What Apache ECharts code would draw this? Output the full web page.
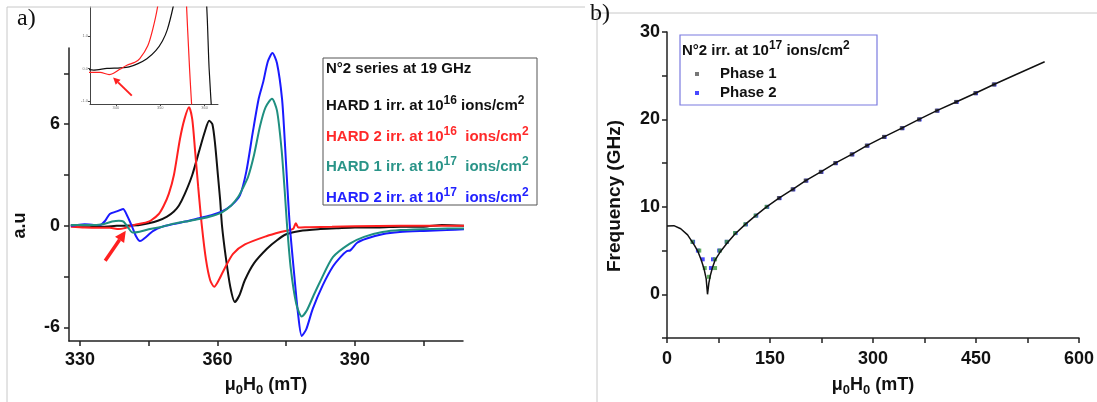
<!DOCTYPE html>
<html><head><meta charset="utf-8">
<script src="https://cdn.jsdelivr.net/npm/echarts@6/dist/echarts.min.js"></script>
<style>html,body{margin:0;padding:0;background:#fff}#c{width:1097px;height:402px}</style>
</head><body><div id="c"></div>
<script>
// ---------- Panel a) : EPR derivative spectra (field in mT, signal in a.u.) ----------
const hard1e16 = [[328,0.02],[332,0.0],[335,-0.05],[338,0.0],[341,0.02],[343,0.05],[345,0.15],[347,0.3],[349,0.55],[350.5,0.85],[351.6,1.2],[352.9,1.9],[354.5,3.0],[356.2,4.6],[357.3,5.6],[358.2,6.2],[358.9,6.0],[359.5,4.8],[360.1,3.0],[360.6,1.5],[361,0],[361.8,-1.8],[362.8,-3.6],[363.8,-4.5],[364.8,-4.1],[366,-3.2],[368,-2.2],[370.8,-1.35],[373,-0.85],[375,-0.5],[378,-0.3],[382,-0.2],[386,-0.15],[390,-0.1],[395,-0.1],[400,-0.05],[405,-0.05],[409,0.05],[414,0.0]];
const hard2e16 = [[328,-0.05],[331,-0.1],[334,-0.12],[336.5,-0.12],[338.5,-0.19],[339.5,-0.15],[341,-0.02],[342.5,0.1],[344.3,0.19],[345.4,0.3],[347.2,0.7],[348.3,1.2],[349.4,1.9],[350.5,3.0],[351.8,5.1],[352.8,6.3],[353.8,7.0],[354.5,6.3],[355.1,4.5],[355.8,2.3],[356.6,0],[357.5,-2.0],[358.4,-3.2],[359.3,-3.6],[360.3,-3.2],[361.6,-2.5],[363.4,-1.65],[366,-1.1],[370.8,-0.6],[374,-0.35],[376.5,-0.18],[377.1,0.15],[377.7,-0.1],[380,-0.08],[385,-0.05],[390,-0.02],[400,0.0],[414,0.0]];
const hard1e17 = [[328,0.05],[332,0.05],[335,0.1],[337,0.25],[338.5,0.3],[339.5,0.25],[340.5,-0.1],[341.5,-0.4],[343,-0.35],[345,-0.2],[348,-0.05],[350,0.1],[353,0.25],[356,0.4],[359,0.6],[361,0.8],[363,1.2],[364.5,1.7],[365.5,2.2],[366.7,2.9],[368,4.2],[369.3,5.9],[370.5,7.0],[371.9,7.5],[373,6.8],[374,4.5],[374.7,2.0],[375.2,0],[376,-2.5],[377.2,-4.6],[378.4,-5.35],[379.5,-5.0],[381,-4.1],[382.4,-3.3],[385.2,-1.85],[388.9,-1.05],[392,-0.65],[396,-0.37],[400,-0.25],[407,-0.18],[414,-0.15]];
const hard2e17 = [[328,0.0],[331,0.1],[333,0.05],[334.4,0.05],[335.5,0.3],[336.5,0.7],[338,0.85],[339.4,1.0],[340.3,0.6],[341.3,0.0],[342.2,-0.6],[343.1,-0.9],[344,-0.75],[346,-0.3],[348,-0.05],[350.3,0.1],[353,0.25],[356,0.45],[359,0.65],[361,0.85],[363,1.2],[364.9,1.8],[366.3,3.2],[367.7,5.5],[369,7.5],[370,8.5],[371,9.7],[372,10.2],[373,9.6],[374.1,7.5],[374.7,5.0],[375.2,2.6],[375.8,0],[376.8,-3.0],[377.6,-5.2],[378.4,-6.5],[379.4,-6.1],[380.8,-4.9],[383,-3.5],[385.2,-2.4],[387,-1.8],[388.2,-1.5],[389,-1.45],[390.5,-1.0],[392.6,-0.75],[396,-0.5],[399.8,-0.37],[405,-0.3],[410,-0.25],[414,-0.2]];

// ---------- Panel b) : frequency vs field ----------
const fitLine = [[0,7.8],[10,7.85],[20,7.5],[30,6.8],[40,5.6],[45,4.9],[50,3.9],[54,2.9],[57,1.8],[59,0],[61,1.3],[63,2.1],[66,3.0],[70,3.9],[78,4.9],[87,5.8],[99,6.9],[114,8.0],[129,9.0],[145,10.0],[163,11],[183,12],[202,13],[224,14],[245,15],[269,16],[291,17],[316,18],[342,19],[367,20],[393,21],[421,22],[449,23],[476,24],[510,25.2],[550,26.6]];
const phase1 = [[37,6],[47,5],[55,3],[61,2],[70,3],[70,4],[77,5],[87,6],[99,7],[114,8],[129,9],[145,10],[163,11],[183,12],[202,13],[224,14],[245,15],[269,16],[291,17],[316,18],[342,19],[367,20],[393,21],[421,22],[449,23],[476,24]];
const phase2 = [[38,6],[45,5],[52,4],[64,3],[67,4],[76,5],[87,6],[100,7],[115,8],[130,9],[146,10],[164,11],[184,12],[203,13],[225,14],[246,15],[270,16],[292,17],[317,18],[343,19],[368,20],[394,21],[422,22],[450,23],[477,24]];

// ---------- ticks ----------
const leftXTicks = [330,345,360,375,390,405];
const leftXLabels = [330,360,390];
const leftYTicks = [-6,-3,0,3,6,9];
const leftYLabels = [-6,0,6];
const insetXTicks = [340,350,360];
const insetYTicks = [-1,0,1];
const rightXTicks = [0,75,150,225,300,375,450,525,600];
const rightXLabels = [0,150,300,450,600];
const rightYTicks = [-5,0,5,10,15,20,25,30];
const rightYLabels = [0,10,20,30];

// annotation arrows (data coordinates: tail, head)
const mainArrow = [[335.5,-2.06],[340.0,-0.29]];
const insetArrow = [[343.6,-0.84],[339.4,-0.28]];

const N1 = 'HARD 1 irr. at 10^16 ions/cm^2';
const N2 = 'HARD 2 irr. at 10^16  ions/cm^2';
const N3 = 'HARD 1 irr. at 10^17  ions/cm^2';
const N4 = 'HARD 2 irr. at 10^17  ions/cm^2';
const C1 = '#111111', C2 = '#ff2020', C3 = '#1f8f80', C4 = '#1a1aff';

const FF = "'Liberation Sans', Arial, sans-serif";
const tickLbl = {fontFamily: FF, fontWeight: 'bold', fontSize: 18, color: '#111'};
const axLine = {show: true, onZero: false, lineStyle: {color: '#222', width: 1.5}};
const axLineThin = {show: true, onZero: false, lineStyle: {color: '#444', width: 1}};

function toRich(name){
  return ('{b|' + name.replace(/\^(\d+)/g, '}{s|$1}{b|') + '}').replace('{b|}', '');
}
function legRich(color){
  return {color: color, rich: {
    b: {fontSize: 15, fontWeight: 'bold', fontFamily: FF, color: color, lineHeight: 22},
    s: {fontSize: 12, fontWeight: 'bold', fontFamily: FF, color: color, lineHeight: 12, verticalAlign: 'top'}
  }};
}
const fieldName = '{m|μ}{sub|0}{m|H}{sub|0}{m| (mT)}';
const fieldNameStyle = {rich: {
  m: {fontSize: 18, fontWeight: 'bold', fontFamily: FF, color: '#111', lineHeight: 24},
  sub: {fontSize: 13, fontWeight: 'bold', fontFamily: FF, color: '#111', lineHeight: 13, verticalAlign: 'bottom'}
}};

const chart = echarts.init(document.getElementById('c'), null, {renderer: 'canvas'});

const lineS = (name, data, color, x, w) => ({
  type: 'line', name: name, data: data, xAxisIndex: x, yAxisIndex: x,
  showSymbol: false, symbol: 'none', lineStyle: {color: color, width: w}, itemStyle: {color: color},
  smooth: 0.25, animation: false, clip: true
});

const option = {
  backgroundColor: '#fff',
  animation: false,
  grid: [
    {left: 69, top: 48, width: 394, height: 295},
    {left: 90, top: 7, width: 128, height: 97},
    {left: 667, top: 32, width: 412, height: 308}
  ],
  xAxis: [
    {gridIndex: 0, type: 'value', min: 327.6, max: 413.6, axisLine: axLine,
     axisTick: {customValues: leftXTicks, length: 5, lineStyle: {color: '#222', width: 1.5}},
     axisLabel: Object.assign({customValues: leftXLabels, margin: 10}, tickLbl),
     splitLine: {show: false},
     name: fieldName, nameLocation: 'middle', nameGap: 32, nameTextStyle: fieldNameStyle},
    {gridIndex: 1, type: 'value', min: 334.2, max: 363, axisLine: axLineThin,
     axisTick: {customValues: insetXTicks, length: 2, lineStyle: {color: '#444', width: 1}},
     axisLabel: {customValues: insetXTicks, fontSize: 4, color: '#777', margin: 2, fontFamily: FF},
     splitLine: {show: false}},
    {gridIndex: 2, type: 'value', min: 0, max: 600, axisLine: axLine,
     axisTick: {customValues: rightXTicks, length: 5, lineStyle: {color: '#222', width: 1.5}},
     axisLabel: Object.assign({customValues: rightXLabels, margin: 12}, tickLbl),
     splitLine: {show: false},
     name: fieldName, nameLocation: 'middle', nameGap: 35, nameTextStyle: fieldNameStyle}
  ],
  yAxis: [
    {gridIndex: 0, type: 'value', min: -6.8, max: 10.5, axisLine: axLine,
     axisTick: {customValues: leftYTicks, length: 5, lineStyle: {color: '#222', width: 1.5}},
     axisLabel: Object.assign({customValues: leftYLabels, margin: 9}, tickLbl),
     splitLine: {show: false},
     name: 'a.u', nameLocation: 'middle', nameGap: 40,
     nameTextStyle: {fontFamily: FF, fontWeight: 'bold', fontSize: 18, color: '#111', padding: [0, 62, 0, 0]}},
    {gridIndex: 1, type: 'value', min: -1.1, max: 1.9, axisLine: axLineThin,
     axisTick: {customValues: insetYTicks, length: 2, lineStyle: {color: '#444', width: 1}},
     axisLabel: {customValues: insetYTicks, fontSize: 4, color: '#777', margin: 2, fontFamily: FF,
                 formatter: v => v.toFixed(1)},
     splitLine: {show: false}},
    {gridIndex: 2, type: 'value', min: -5, max: 30, axisLine: axLine,
     axisTick: {customValues: rightYTicks, length: 5, lineStyle: {color: '#222', width: 1.5}},
     axisLabel: Object.assign({customValues: rightYLabels, margin: 7}, tickLbl),
     splitLine: {show: false},
     name: 'Frequency (GHz)', nameLocation: 'middle', nameGap: 43,
     nameTextStyle: {fontFamily: FF, fontWeight: 'bold', fontSize: 19, color: '#111', padding: [0, 22, 0, 0]}}
  ],
  legend: [
    {orient: 'vertical', left: 320, top: 95, padding: 0, itemGap: 12, icon: 'none',
     itemWidth: 1, itemHeight: 14, selectedMode: false,
     formatter: toRich,
     textStyle: {fontFamily: FF, fontWeight: 'bold', fontSize: 15},
     data: [
       {name: N1, textStyle: legRich('#111')},
       {name: N2, textStyle: legRich('#ff2a2a')},
       {name: N3, textStyle: legRich('#2a9488')},
       {name: N4, textStyle: legRich('#2222ff')}
     ]},
    {orient: 'vertical', left: 695, top: 66, padding: 0, itemGap: 3,
     itemWidth: 4, itemHeight: 4, selectedMode: false,
     textStyle: {fontFamily: FF, fontWeight: 'bold', fontSize: 15, color: '#111', lineHeight: 16, padding: [0, 0, 0, 16]},
     data: [
       {name: 'Phase 1', icon: 'rect', itemStyle: {color: '#555'}},
       {name: 'Phase 2', icon: 'rect', itemStyle: {color: '#1a1aff'}}
     ]}
  ],
  visualMap: [{type: 'piecewise', show: false, seriesIndex: 8, dimension: 1,
    pieces: [{max: 10.5, color: '#3c9a3c'}, {min: 10.5, color: '#3a3a3a'}]}],
  series: [
    lineS(N1, hard1e16, C1, 0, 2),
    lineS(N2, hard2e16, C2, 0, 2),
    lineS(N4, hard2e17, C4, 0, 2),
    lineS(N3, hard1e17, C3, 0, 2),
    lineS(N1, hard1e16, C1, 1, 1.2),
    lineS(N2, hard2e16, C2, 1, 1.2),
    {type: 'scatter', name: 'Phase 2', data: phase2, xAxisIndex: 2, yAxisIndex: 2,
     symbol: 'rect', symbolSize: 4, itemStyle: {color: '#1a1aff'}, z: 2},
    {type: 'line', name: 'Fit', data: fitLine, xAxisIndex: 2, yAxisIndex: 2, showSymbol: false, symbol: 'none',
     lineStyle: {color: '#111', width: 1.5}, z: 4},
    {type: 'scatter', name: 'Phase 1', data: phase1, xAxisIndex: 2, yAxisIndex: 2,
     symbol: 'rect', symbolSize: 4, z: 3}
  ]
};
chart.setOption(option);

function arrowEls(p0, p1, w, hl, hw, color){
  const dx = p1[0]-p0[0], dy = p1[1]-p0[1];
  const L = Math.hypot(dx, dy), ux = dx/L, uy = dy/L;
  const bx = p1[0]-ux*hl, by = p1[1]-uy*hl, nx = -uy, ny = ux;
  return [
    {type: 'line', z: 20, shape: {x1: p0[0], y1: p0[1], x2: bx, y2: by}, style: {stroke: color, lineWidth: w}},
    {type: 'polygon', z: 20, shape: {points: [[p1[0], p1[1]], [bx+nx*hw/2, by+ny*hw/2], [bx-nx*hw/2, by-ny*hw/2]]}, style: {fill: color}}
  ];
}
const supRich = (size) => ({
  b: {fontSize: size, fontWeight: 'bold', fontFamily: FF, fill: '#111', lineHeight: 22},
  s: {fontSize: size-3, fontWeight: 'bold', fontFamily: FF, fill: '#111', lineHeight: 12, verticalAlign: 'top'}
});
const ma0 = chart.convertToPixel({seriesIndex: 0}, mainArrow[0]);
const ma1 = chart.convertToPixel({seriesIndex: 0}, mainArrow[1]);
const ia0 = chart.convertToPixel({seriesIndex: 4}, insetArrow[0]);
const ia1 = chart.convertToPixel({seriesIndex: 4}, insetArrow[1]);

const gfx = [
  {type: 'line', z: 1, shape: {x1: 7, y1: 7, x2: 585, y2: 7}, style: {stroke: '#c8c8c8', lineWidth: 1}},
  {type: 'line', z: 1, shape: {x1: 7, y1: 7, x2: 7, y2: 402}, style: {stroke: '#c8c8c8', lineWidth: 1}},
  {type: 'line', z: 1, shape: {x1: 597, y1: 13, x2: 1097, y2: 13}, style: {stroke: '#c8c8c8', lineWidth: 1}},
  {type: 'line', z: 1, shape: {x1: 597, y1: 13, x2: 597, y2: 402}, style: {stroke: '#c8c8c8', lineWidth: 1}},
  {type: 'text', z: 10, style: {text: 'a)', x: 17, y: 19, verticalAlign: 'middle', fontFamily: "'Liberation Serif', serif", fontSize: 24, fill: '#111'}},
  {type: 'text', z: 10, style: {text: 'b)', x: 590, y: 14, verticalAlign: 'middle', fontFamily: "'Liberation Serif', serif", fontSize: 24, fill: '#111'}},
  {type: 'rect', z: 3, shape: {x: 323, y: 58, width: 214, height: 147}, style: {fill: '#fff', stroke: '#555', lineWidth: 1}},
  {type: 'text', z: 10, style: {text: 'N°2 series at 19 GHz', x: 326, y: 69, verticalAlign: 'middle', fontFamily: FF, fontWeight: 'bold', fontSize: 15, fill: '#111'}},
  {type: 'rect', z: 3, shape: {x: 680, y: 35, width: 197, height: 70}, style: {fill: '#fff', stroke: '#7b7be0', lineWidth: 1.2}},
  {type: 'text', z: 10, style: {text: '{b|N°2 irr. at 10}{s|17}{b| ions/cm}{s|2}', rich: supRich(15), x: 682, y: 51, verticalAlign: 'middle'}}
].concat(arrowEls(ma0, ma1, 3.5, 11, 11, '#ff2020'), arrowEls(ia0, ia1, 2, 7, 7, '#ff2020'));

chart.setOption({graphic: gfx});
</script></body></html>
